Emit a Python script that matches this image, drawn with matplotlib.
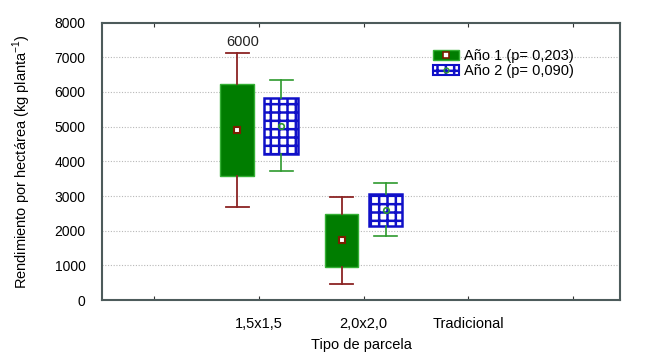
import matplotlib
matplotlib.use("Agg")
import matplotlib.pyplot as plt
from matplotlib.patches import Patch
from matplotlib.lines import Line2D

plt.rcParams['font.family'] = ['Liberation Sans', 'DejaVu Sans']
plt.rcParams['hatch.linewidth'] = 1.8
plt.rcParams['hatch.color'] = '#1010c8'

# categories (tick 1..5, only 2-4 labelled)
tick_labels = ['', '1,5x1,5', '2,0x2,0', 'Tradicional', '']
group_pos = [2, 3]

# Año 1: mean, box = mean±SE, whisker = mean±SD
mean_y1 = [4900, 1730]
se_y1 = [1335, 765]
sd_y1 = [2215, 1255]

# Año 2
mean_y2 = [5030, 2610]
se_y2 = [806, 460]
sd_y2 = [1314, 757]

legend_labels = ['Año 1 (p= 0,203)', 'Año 2 (p= 0,090)']

green = '#007d00'
darkred = '#8b2323'
blue = '#1010c8'
wgreen = '#2e9a2e'


def make_stats(means, ses, sds):
    return [dict(med=m, q1=m - s, q3=m + s, whislo=m - d, whishi=m + d, fliers=[])
            for m, s, d in zip(means, ses, sds)]


fig = plt.figure(figsize=(6.5, 3.59), dpi=100)
ax = fig.add_axes([0.157, 0.164, 0.797, 0.773])

off = 0.21
width = 0.32
pos1 = [g - off for g in group_pos]
pos2 = [g + off for g in group_pos]

ax.bxp(make_stats(mean_y1, se_y1, sd_y1), positions=pos1, widths=width,
       patch_artist=True, capwidths=0.22,
       boxprops=dict(facecolor=green, edgecolor='#35b035', linewidth=1),
       whiskerprops=dict(color=darkred, linewidth=1.3),
       capprops=dict(color=darkred, linewidth=1.3),
       medianprops=dict(linewidth=0), zorder=3)
ax.bxp(make_stats(mean_y2, se_y2, sd_y2), positions=pos2, widths=width,
       patch_artist=True, capwidths=0.22,
       boxprops=dict(facecolor='white', edgecolor=blue, linewidth=1.8, hatch='++'),
       whiskerprops=dict(color=wgreen, linewidth=1.2),
       capprops=dict(color=wgreen, linewidth=1.2),
       medianprops=dict(linewidth=0), zorder=3)

ax.plot(pos1, mean_y1, linestyle='none', marker='s', markersize=5,
        markerfacecolor='white', markeredgecolor='#7a1f00', markeredgewidth=1.5, zorder=5)
ax.plot(pos2, mean_y2, linestyle='none', marker='o', markersize=4,
        markerfacecolor='none', markeredgecolor=wgreen, markeredgewidth=1.2, zorder=5)

ax.text(pos1[0] + 0.05, 7450, '6000', ha='center', va='center', fontsize=10.5, color='#222222')

ax.set_xlim(0.5, 5.45)
ax.set_ylim(0, 8000)
ax.set_xticks(range(1, 6))
ax.set_xticklabels(tick_labels, fontsize=10.5)
ax.set_yticks(range(0, 8001, 1000))
ax.tick_params(axis='y', length=0, labelsize=10, pad=12)
ax.tick_params(axis='x', direction='in', length=3, top=True, pad=12, color='#333333')

for y in range(1000, 8000, 1000):
    ax.axhline(y, color='#b8b8b8', linestyle=(0, (1, 1.5)), linewidth=0.8, zorder=0)

for sp in ax.spines.values():
    sp.set_color('#4d5b5b')
    sp.set_linewidth(1.5)

ax.set_xlabel('Tipo de parcela', fontsize=10.5, labelpad=5)
ax.set_ylabel('Rendimiento por hectárea (kg planta$^{\\mathregular{-1}}$)', fontsize=10.5, labelpad=15)

h1 = (Patch(facecolor=green, edgecolor='#35b035'),
      Line2D([], [], linestyle='none', marker='s', markersize=4,
             markerfacecolor='white', markeredgecolor='#7a1f00', markeredgewidth=1.2))
h2 = (Patch(facecolor='white', edgecolor=blue, hatch='++', linewidth=1.5),
      Line2D([], [], linestyle='none', marker='o', markersize=3.5,
             markerfacecolor='none', markeredgecolor=wgreen))
ax.legend([h1, h2], legend_labels, loc='upper left', bbox_to_anchor=(0.625, 0.93),
          frameon=False, fontsize=10.5, handlelength=1.8, handleheight=0.7,
          labelspacing=0.05, handletextpad=0.3, borderpad=0)

fig.savefig('out.png', dpi=100)
